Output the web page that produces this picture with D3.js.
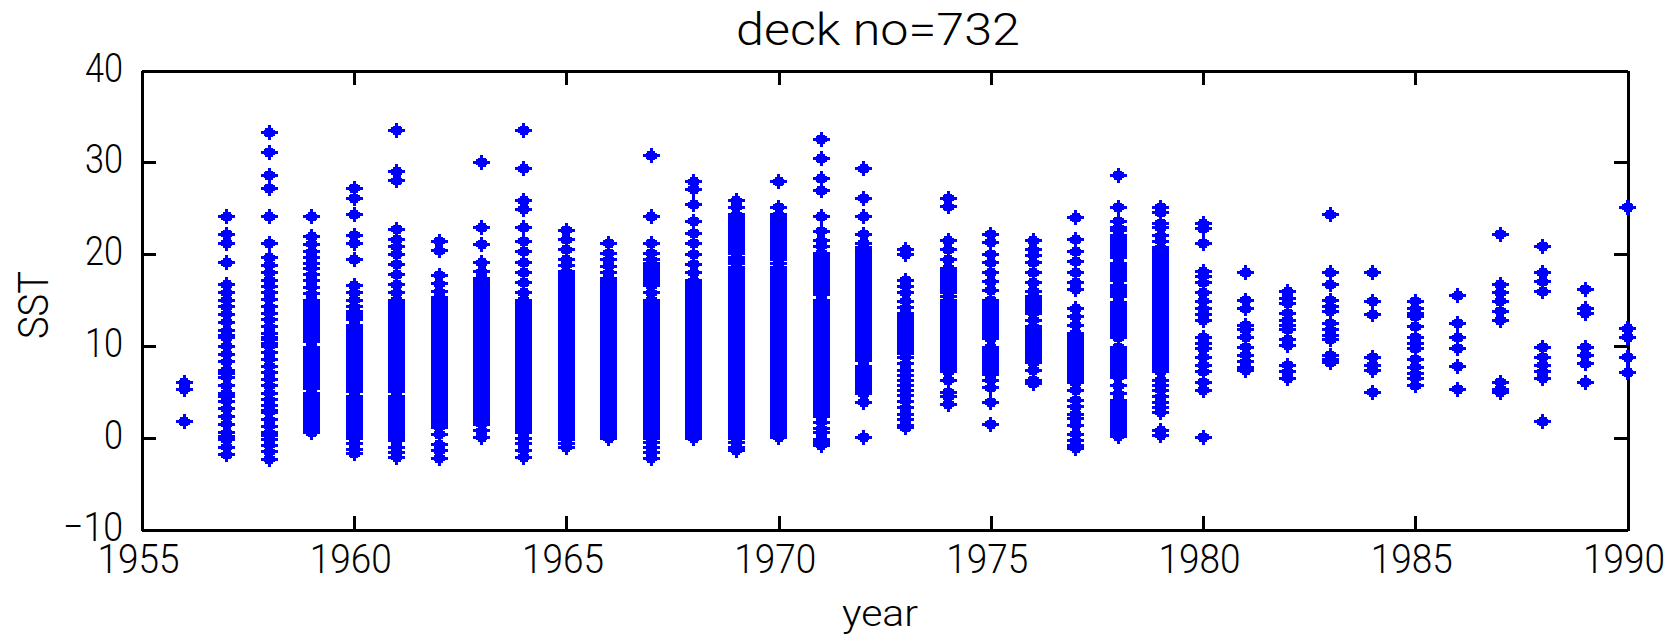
<!DOCTYPE html>
<html>
<head>
<meta charset="utf-8">
<script src="https://cdn.jsdelivr.net/npm/d3@7"></script>
<style>
  html, body { margin: 0; padding: 0; background: #fff; }
  svg { display: block; }
  text { font-family: "Roboto", "Liberation Sans", sans-serif; font-weight: 300; fill: #000; }
</style>
</head>
<body>
<svg id="chart" width="1678" height="634"></svg>
<script>
// Axis tick values
const xTicks = [1955, 1960, 1965, 1970, 1975, 1980, 1985, 1990];
const yTicks = [-10, 0, 10, 20, 30, 40];

// Observation years (one column of points per year)
const years = [1956, 1957, 1958, 1959, 1960, 1961, 1962, 1963, 1964, 1965,
               1966, 1967, 1968, 1969, 1970, 1971, 1972, 1973, 1974, 1975,
               1976, 1977, 1978, 1979, 1980, 1981, 1982, 1983, 1984, 1985,
               1986, 1987, 1988, 1989, 1990];

// SST readings per year (deg C), same order as `years`
const sst = [
  /*1956*/ [6.0, 5.3, 1.8],
  /*1957*/ [24.1, 22.2, 21.2, 19.1, 16.7, 15.8, 15.0, 14.3, 13.5, 12.6, 11.7, 11.2, 10.9, 10.0, 9.1, 8.3, 7.4, 7.0, 6.6, 5.7, 4.9, 4.5, 4.0, 3.2, 2.3, 1.5, 0.6, 0.2, -0.2, -1.0, -1.8],
  /*1958*/ [33.2, 31.1, 28.6, 27.2, 24.1, 21.2, 19.6, 18.8, 18.0, 17.2, 16.5, 15.8, 15.1, 14.3, 13.6, 12.9, 12.1, 11.4, 11.0, 10.7, 10.3, 10.0, 9.3, 8.6, 7.8, 7.1, 6.4, 5.7, 4.9, 4.2, 3.5, 3.0, 2.8, 2.0, 1.3, 0.6, 0.3, -0.1, -0.8, -1.5, -2.3],
  /*1959*/ [24.1, 21.9, 21.1, 20.3, 19.6, 19.0, 18.5, 17.8, 17.1, 16.4, 15.7, 15.0, 14.7, 14.4, 14.1, 13.8, 13.5, 13.2, 12.9, 12.6, 12.3, 12.0, 11.7, 11.4, 11.1, 10.8, 10.5, 9.9, 9.6, 9.3, 9.0, 8.7, 8.4, 8.1, 7.8, 7.5, 7.2, 6.9, 6.6, 6.3, 6.0, 5.7, 5.4, 4.8, 4.5, 4.2, 3.9, 3.6, 3.3, 3.0, 2.7, 2.4, 2.1, 1.8, 1.5, 1.2, 0.9, 0.6],
  /*1960*/ [27.2, 26.1, 24.3, 22.1, 21.2, 19.4, 16.6, 15.8, 15.0, 14.3, 13.8, 13.5, 13.2, 12.9, 12.3, 12.0, 11.7, 11.4, 11.1, 10.8, 10.5, 10.2, 9.9, 9.6, 9.3, 9.0, 8.7, 8.4, 8.1, 7.8, 7.5, 7.2, 6.9, 6.6, 6.3, 6.0, 5.7, 5.4, 5.1, 4.5, 4.2, 3.9, 3.6, 3.3, 3.0, 2.7, 2.4, 2.1, 1.8, 1.5, 1.2, 0.9, 0.6, 0.3, 0.0, -0.6, -1.2, -1.7],
  /*1961*/ [33.5, 29.0, 28.0, 22.7, 21.6, 20.8, 20.0, 18.9, 17.8, 16.7, 15.8, 15.0, 14.7, 14.4, 14.1, 13.8, 13.5, 13.2, 12.9, 12.6, 12.3, 12.0, 11.7, 11.4, 11.1, 10.8, 10.5, 10.2, 9.9, 9.6, 9.3, 9.0, 8.7, 8.4, 8.1, 7.8, 7.5, 7.2, 6.9, 6.6, 6.3, 6.0, 5.7, 5.4, 5.1, 4.5, 4.2, 3.9, 3.6, 3.3, 3.0, 2.7, 2.4, 2.1, 1.8, 1.5, 1.2, 0.9, 0.6, 0.3, 0.0, -0.3, -1.0, -1.6, -2.1],
  /*1962*/ [21.4, 20.4, 17.7, 16.8, 15.9, 15.3, 15.0, 14.7, 14.4, 14.1, 13.8, 13.5, 13.2, 12.9, 12.6, 12.3, 12.0, 11.7, 11.4, 11.1, 10.8, 10.5, 10.2, 9.9, 9.6, 9.3, 9.0, 8.7, 8.4, 8.1, 7.8, 7.5, 7.2, 6.9, 6.6, 6.3, 6.0, 5.7, 5.4, 5.1, 4.8, 4.5, 4.2, 3.9, 3.6, 3.3, 3.0, 2.7, 2.4, 2.1, 1.8, 1.5, 1.2, 0.4, -0.7, -1.4, -2.2],
  /*1963*/ [30.0, 22.9, 21.1, 19.1, 18.1, 17.4, 17.1, 16.8, 16.5, 16.2, 15.9, 15.6, 15.3, 15.0, 14.7, 14.4, 14.1, 13.8, 13.5, 13.2, 12.9, 12.6, 12.3, 12.0, 11.7, 11.4, 11.1, 10.8, 10.5, 10.2, 9.9, 9.6, 9.3, 9.0, 8.7, 8.4, 8.1, 7.8, 7.5, 7.2, 6.9, 6.6, 6.3, 6.0, 5.7, 5.4, 5.1, 4.8, 4.5, 4.2, 3.9, 3.6, 3.3, 3.0, 2.7, 2.4, 2.1, 1.8, 1.5, 0.8, 0.1],
  /*1964*/ [33.5, 29.3, 25.8, 24.9, 22.9, 21.4, 20.3, 19.1, 18.0, 16.9, 15.8, 15.0, 14.7, 14.4, 14.1, 13.8, 13.5, 13.2, 12.9, 12.6, 12.3, 12.0, 11.7, 11.4, 11.1, 10.8, 10.5, 10.2, 9.9, 9.6, 9.3, 9.0, 8.7, 8.4, 8.1, 7.8, 7.5, 7.2, 6.9, 6.6, 6.3, 6.0, 5.7, 5.4, 5.1, 4.8, 4.5, 4.2, 3.9, 3.6, 3.3, 3.0, 2.7, 2.4, 2.1, 1.8, 1.5, 1.2, 0.9, 0.6, 0.0, -0.6, -1.3, -2.1],
  /*1965*/ [22.6, 21.6, 20.5, 19.4, 18.8, 18.1, 17.8, 17.5, 17.2, 16.9, 16.6, 16.3, 16.0, 15.7, 15.4, 15.1, 14.8, 14.5, 14.2, 13.9, 13.6, 13.3, 13.0, 12.7, 12.4, 12.1, 11.8, 11.5, 11.2, 10.9, 10.6, 10.3, 10.0, 9.7, 9.4, 9.1, 8.8, 8.5, 8.2, 7.9, 7.6, 7.3, 7.0, 6.7, 6.4, 6.1, 5.8, 5.5, 5.2, 4.9, 4.6, 4.3, 4.0, 3.7, 3.4, 3.1, 2.8, 2.5, 2.2, 1.9, 1.6, 1.3, 1.0, 0.7, 0.4, 0.1, -0.2, -0.6, -1.0],
  /*1966*/ [21.2, 20.1, 19.4, 18.7, 18.0, 17.4, 17.1, 16.8, 16.5, 16.2, 15.9, 15.6, 15.3, 15.0, 14.7, 14.4, 14.1, 13.8, 13.5, 13.2, 12.9, 12.6, 12.3, 12.0, 11.7, 11.4, 11.1, 10.8, 10.5, 10.2, 9.9, 9.6, 9.3, 9.0, 8.7, 8.4, 8.1, 7.8, 7.5, 7.2, 6.9, 6.6, 6.3, 6.0, 5.7, 5.4, 5.1, 4.8, 4.5, 4.2, 3.9, 3.6, 3.3, 3.0, 2.7, 2.4, 2.1, 1.8, 1.5, 1.2, 0.9, 0.6, 0.3, 0.0],
  /*1967*/ [30.7, 24.1, 21.2, 20.1, 19.4, 19.0, 18.7, 18.4, 18.1, 17.8, 17.5, 17.2, 16.9, 16.6, 15.8, 15.0, 14.7, 14.4, 14.1, 13.8, 13.5, 13.2, 12.9, 12.6, 12.3, 12.0, 11.7, 11.4, 11.1, 10.8, 10.5, 10.2, 9.9, 9.6, 9.3, 9.0, 8.7, 8.4, 8.1, 7.8, 7.5, 7.2, 6.9, 6.6, 6.3, 6.0, 5.7, 5.4, 5.1, 4.8, 4.5, 4.2, 3.9, 3.6, 3.3, 3.0, 2.7, 2.4, 2.1, 1.8, 1.5, 1.2, 0.9, 0.6, 0.3, 0.0, -0.5, -1.0, -1.6, -2.2],
  /*1968*/ [27.9, 27.1, 25.4, 23.6, 22.3, 21.2, 20.0, 18.9, 18.0, 17.1, 16.8, 16.5, 16.2, 15.9, 15.6, 15.3, 15.0, 14.7, 14.4, 14.1, 13.8, 13.5, 13.2, 12.9, 12.6, 12.3, 12.0, 11.7, 11.4, 11.1, 10.8, 10.5, 10.2, 9.9, 9.6, 9.3, 9.0, 8.7, 8.4, 8.1, 7.8, 7.5, 7.2, 6.9, 6.6, 6.3, 6.0, 5.7, 5.4, 5.1, 4.8, 4.5, 4.2, 3.9, 3.6, 3.3, 3.0, 2.7, 2.4, 2.1, 1.8, 1.5, 1.2, 0.9, 0.6, 0.3, 0.0],
  /*1969*/ [25.8, 25.1, 24.3, 24.0, 23.7, 23.4, 23.1, 22.8, 22.5, 22.2, 21.9, 21.6, 21.3, 21.0, 20.7, 20.4, 20.1, 19.7, 19.3, 19.0, 18.6, 18.3, 18.0, 17.7, 17.4, 17.1, 16.8, 16.5, 16.2, 15.9, 15.6, 15.3, 15.0, 14.7, 14.4, 14.1, 13.8, 13.5, 13.2, 12.9, 12.6, 12.3, 12.0, 11.7, 11.4, 11.1, 10.8, 10.5, 10.2, 9.9, 9.6, 9.3, 9.0, 8.7, 8.4, 8.1, 7.8, 7.5, 7.2, 6.9, 6.6, 6.3, 6.0, 5.7, 5.4, 5.1, 4.8, 4.5, 4.2, 3.9, 3.6, 3.3, 3.0, 2.7, 2.4, 2.1, 1.8, 1.5, 1.2, 0.9, 0.6, 0.3, 0.0, -0.5, -1.0, -1.3],
  /*1970*/ [27.9, 25.1, 24.3, 24.0, 23.7, 23.4, 23.1, 22.8, 22.5, 22.2, 21.9, 21.6, 21.3, 21.0, 20.7, 20.4, 20.1, 19.8, 19.4, 19.0, 18.6, 18.3, 18.0, 17.7, 17.4, 17.1, 16.8, 16.5, 16.2, 15.9, 15.6, 15.3, 15.0, 14.7, 14.4, 14.1, 13.8, 13.5, 13.2, 12.9, 12.6, 12.3, 12.0, 11.7, 11.4, 11.1, 10.8, 10.5, 10.2, 9.9, 9.6, 9.3, 9.0, 8.7, 8.4, 8.1, 7.8, 7.5, 7.2, 6.9, 6.6, 6.3, 6.0, 5.7, 5.4, 5.1, 4.8, 4.5, 4.2, 3.9, 3.6, 3.3, 3.0, 2.7, 2.4, 2.1, 1.8, 1.5, 1.2, 0.9, 0.6, 0.3, 0.1],
  /*1971*/ [32.5, 30.4, 28.2, 26.9, 24.1, 22.5, 21.5, 20.9, 20.1, 19.8, 19.5, 19.2, 18.9, 18.6, 18.3, 18.0, 17.7, 17.4, 17.1, 16.8, 16.5, 16.2, 15.9, 15.6, 15.0, 14.7, 14.4, 14.1, 13.8, 13.5, 13.2, 12.9, 12.6, 12.3, 12.0, 11.7, 11.4, 11.1, 10.8, 10.5, 10.2, 9.9, 9.6, 9.3, 9.0, 8.7, 8.4, 8.1, 7.8, 7.5, 7.2, 6.9, 6.6, 6.3, 6.0, 5.7, 5.4, 5.1, 4.8, 4.5, 4.2, 3.9, 3.6, 3.3, 3.0, 2.7, 2.4, 1.7, 1.0, 0.6, -0.1, -0.5, -0.8],
  /*1972*/ [29.3, 26.1, 24.1, 22.2, 21.2, 20.7, 20.4, 20.1, 19.8, 19.5, 19.2, 18.9, 18.6, 18.3, 18.0, 17.7, 17.4, 17.1, 16.8, 16.5, 16.2, 15.9, 15.6, 15.3, 15.0, 14.7, 14.4, 14.1, 13.8, 13.5, 13.2, 12.9, 12.6, 12.3, 12.0, 11.7, 11.4, 11.1, 10.8, 10.5, 10.2, 9.9, 9.6, 9.3, 9.0, 8.7, 8.4, 7.8, 7.5, 7.2, 6.9, 6.6, 6.3, 6.0, 5.7, 5.4, 5.1, 4.8, 3.9, 0.1],
  /*1973*/ [20.5, 20.0, 17.2, 16.5, 15.8, 14.9, 14.2, 13.6, 13.3, 13.0, 12.7, 12.4, 12.1, 11.8, 11.5, 11.2, 10.9, 10.6, 10.3, 10.0, 9.7, 9.4, 9.2, 8.8, 8.1, 7.4, 6.8, 6.3, 5.7, 5.2, 4.6, 4.0, 3.3, 2.6, 2.0, 1.4, 1.1],
  /*1974*/ [26.1, 25.2, 21.5, 20.5, 19.4, 18.5, 18.2, 17.9, 17.6, 17.3, 17.0, 16.7, 16.4, 16.1, 15.8, 15.4, 15.0, 14.7, 14.4, 14.1, 13.8, 13.5, 13.2, 12.9, 12.6, 12.3, 12.0, 11.7, 11.4, 11.1, 10.8, 10.5, 10.2, 9.9, 9.6, 9.3, 9.0, 8.7, 8.4, 8.1, 7.8, 7.5, 7.2, 6.3, 5.0, 4.5, 3.7],
  /*1975*/ [22.2, 21.3, 20.0, 19.1, 18.0, 17.0, 16.1, 15.0, 14.7, 14.4, 14.1, 13.8, 13.5, 13.2, 12.9, 12.6, 12.3, 12.0, 11.7, 11.4, 11.1, 10.8, 9.9, 9.6, 9.3, 9.0, 8.7, 8.4, 8.1, 7.8, 7.5, 7.2, 6.9, 6.3, 5.5, 3.9, 1.5],
  /*1976*/ [21.5, 20.5, 19.9, 19.1, 18.0, 16.9, 16.0, 15.4, 15.1, 14.8, 14.5, 14.2, 13.9, 13.6, 12.8, 12.1, 11.8, 11.5, 11.2, 10.9, 10.6, 10.3, 10.0, 9.7, 9.4, 9.1, 8.8, 8.5, 8.2, 7.4, 6.3, 5.9],
  /*1977*/ [24.0, 21.6, 20.3, 19.2, 18.0, 16.9, 16.2, 14.1, 13.2, 12.3, 11.4, 11.1, 10.8, 10.5, 10.2, 9.9, 9.6, 9.3, 9.0, 8.7, 8.4, 8.1, 7.8, 7.5, 7.2, 6.9, 6.6, 6.3, 6.0, 5.2, 4.1, 3.4, 2.6, 2.1, 1.4, 0.4, -0.3, -0.8, -1.1],
  /*1978*/ [28.6, 25.1, 23.6, 22.9, 22.6, 22.0, 21.7, 21.4, 21.1, 20.8, 20.5, 20.2, 19.9, 19.6, 19.0, 18.7, 18.4, 18.1, 17.8, 17.5, 17.2, 16.6, 16.3, 16.0, 15.7, 15.4, 14.8, 14.5, 14.2, 13.9, 13.6, 13.3, 13.0, 12.7, 12.4, 12.1, 11.8, 11.5, 11.2, 10.9, 9.9, 9.6, 9.3, 9.0, 8.7, 8.4, 8.1, 7.8, 7.5, 7.2, 6.9, 6.6, 5.7, 4.8, 4.1, 3.8, 3.5, 3.2, 2.9, 2.6, 2.3, 2.0, 1.7, 1.4, 1.1, 0.8, 0.5, 0.2],
  /*1979*/ [25.1, 24.5, 23.4, 22.9, 22.0, 21.4, 20.7, 20.4, 20.1, 19.8, 19.5, 19.2, 18.9, 18.6, 18.3, 18.0, 17.7, 17.4, 17.1, 16.8, 16.5, 16.2, 15.9, 15.6, 15.3, 15.0, 14.7, 14.4, 14.1, 13.8, 13.5, 13.2, 12.9, 12.6, 12.3, 12.0, 11.7, 11.4, 11.1, 10.8, 10.5, 10.2, 9.9, 9.6, 9.3, 9.0, 8.7, 8.4, 8.1, 7.8, 7.5, 7.2, 6.3, 5.7, 5.2, 4.5, 3.9, 3.3, 2.8, 0.8, 0.3],
  /*1980*/ [23.3, 22.8, 21.2, 18.1, 17.6, 16.9, 15.8, 14.9, 14.1, 13.4, 12.8, 11.0, 10.3, 9.7, 8.8, 7.9, 7.2, 6.1, 5.2, 0.1],
  /*1981*/ [18.0, 15.0, 14.1, 12.3, 11.8, 11.0, 9.9, 9.0, 8.3, 7.7, 7.4],
  /*1982*/ [15.9, 15.2, 14.7, 13.6, 12.8, 12.3, 11.8, 10.7, 10.1, 7.9, 7.2, 6.5],
  /*1983*/ [24.3, 18.0, 16.7, 15.0, 14.3, 13.8, 12.5, 11.8, 11.2, 10.7, 9.0, 8.5, 8.2],
  /*1984*/ [18.0, 14.9, 13.4, 8.8, 7.9, 7.4, 5.0],
  /*1985*/ [14.9, 14.1, 13.6, 13.2, 12.1, 11.0, 10.3, 9.7, 8.6, 7.7, 7.0, 6.5, 5.7],
  /*1986*/ [15.5, 12.5, 10.9, 9.8, 7.8, 5.3],
  /*1987*/ [22.2, 16.7, 15.8, 14.9, 13.8, 12.8, 6.1, 5.3, 5.0],
  /*1988*/ [20.9, 18.0, 17.0, 15.9, 9.9, 8.8, 7.9, 7.2, 6.5, 1.8],
  /*1989*/ [16.2, 14.1, 13.6, 9.9, 9.0, 8.1, 6.1],
  /*1990*/ [25.1, 11.9, 11.0, 8.8, 7.1]
];

const svg = d3.select("#chart");

// Axes box in pixels
const boxLeft = 142, boxRight = 1627.5, boxTop = 70.5, boxBottom = 530;

const x = d3.scaleLinear().domain([1955, 1990]).range([boxLeft, boxRight]);
const y = d3.scaleLinear().domain([-10, 40]).range([boxBottom, boxTop]);

const TICK = 14;
const FONT = '"Roboto", "Liberation Sans", sans-serif';

// Width each tick label is set to, by number of characters
const labelWidth = s => ({ 1: 19, 2: 38, 3: 60, 4: 82 })[s.length];

function styleAxis(g) {
  g.selectAll(".domain").attr("stroke", "#000").attr("stroke-width", 3).attr("shape-rendering", "crispEdges");
  g.selectAll(".tick line").attr("stroke", "#000").attr("stroke-width", 3).attr("shape-rendering", "crispEdges");
  g.selectAll(".tick text")
    .attr("font-size", 41).attr("fill", "#000")
    .style("font-family", FONT).style("font-weight", 300)
    .each(function () {
      const s = this.textContent;
      if (s) d3.select(this).attr("textLength", labelWidth(s)).attr("lengthAdjust", "spacingAndGlyphs");
    });
}

// Box with inward ticks on all four sides
svg.append("g").attr("transform", `translate(0,${boxBottom})`)
  .call(d3.axisBottom(x).tickValues(xTicks).tickFormat(d3.format("d")).tickSize(-TICK).tickSizeOuter(0).tickPadding(14))
  .call(styleAxis)
  .call(g => g.selectAll(".tick text").attr("dy", "0.71em").attr("dx", -4));

svg.append("g").attr("transform", `translate(0,${boxTop})`)
  .call(d3.axisTop(x).tickValues(xTicks).tickFormat("").tickSize(-TICK).tickSizeOuter(0))
  .call(styleAxis);

svg.append("g").attr("transform", `translate(${boxLeft},0)`)
  .call(d3.axisLeft(y).tickValues(yTicks).tickFormat(d => d < 0 ? "\u2212" + Math.abs(d) : String(d)).tickSize(-TICK).tickSizeOuter(0).tickPadding(19))
  .call(styleAxis)
  .call(g => g.selectAll(".tick text").attr("dy", 10.5));

svg.append("g").attr("transform", `translate(${boxRight},0)`)
  .call(d3.axisRight(y).tickValues(yTicks).tickFormat("").tickSize(-TICK).tickSizeOuter(0))
  .call(styleAxis);

// Star-like marker: thick centre with thin arms
const marker = "M-1.5,-7.5H1.5V-4.5H4V-3H5.5V-1.5H8.5V1.5H5.5V3H4V4.5H1.5V7.5H-1.5V4.5H-4V3H-5.5V1.5H-8.5V-1.5H-5.5V-3H-4V-4.5H-1.5Z";

const points = years.flatMap((yr, i) => sst[i].map(v => ({ yr, v })));

svg.append("g")
  .selectAll("path")
  .data(points)
  .join("path")
  .attr("d", marker)
  .attr("transform", d => `translate(${x(d.yr)},${y(d.v)})`)
  .attr("fill", "#0000ff")
  .attr("shape-rendering", "crispEdges");

// Titles
svg.append("text")
  .attr("x", 878).attr("y", 45)
  .attr("text-anchor", "middle")
  .attr("font-size", 45)
  .attr("textLength", 284).attr("lengthAdjust", "spacingAndGlyphs")
  .text("deck no=732");

svg.append("text")
  .attr("x", 880).attr("y", 626)
  .attr("text-anchor", "middle")
  .attr("font-size", 36)
  .attr("textLength", 76).attr("lengthAdjust", "spacingAndGlyphs")
  .text("year");

svg.append("text")
  .attr("transform", "translate(48,305) rotate(-90)")
  .attr("text-anchor", "middle")
  .attr("font-size", 43)
  .attr("textLength", 68).attr("lengthAdjust", "spacingAndGlyphs")
  .text("SST");
</script>
</body>
</html>
